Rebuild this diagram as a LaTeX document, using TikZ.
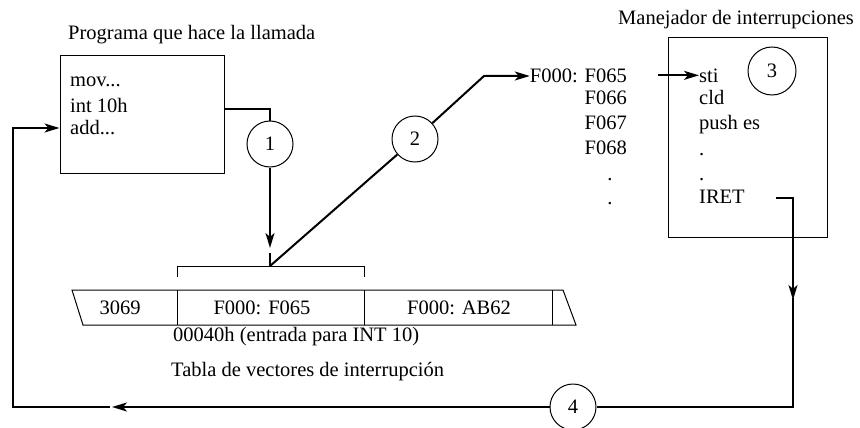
\documentclass[tikz,border=0pt]{standalone}
\usepackage{fontspec}
\setmainfont{Liberation Serif}
\usetikzlibrary{arrows.meta}
\begin{document}
\begin{tikzpicture}[x=1pt,y=-1pt,
  txt/.style={inner sep=0pt, font=\fontsize{20.5}{24}\selectfont},
  box/.style={draw, line width=1pt, inner sep=0pt},
  num/.style={draw, circle, line width=1pt, minimum size=46pt, inner sep=0pt, font=\fontsize{20.5}{24}\selectfont},
  flow/.style={line width=2pt},
  tip/.style={-{Stealth[length=15pt,width=9pt,inset=4pt]}},
  thinline/.style={line width=1pt}]
\useasboundingbox (0,0) rectangle (860,428);
% caller program
\node[txt, anchor=base west] (t1) at (68,40) {Programa que hace la llamada};
\node[box, minimum width=164pt, minimum height=117pt] (b1) at (142,114.5) {};
\node[txt, anchor=base west] (l1) at (70,87) {mov...};
\node[txt, anchor=base west] (l2) at (70,112) {int 10h};
\node[txt, anchor=base west] (l3) at (70,135) {add...};
% circles
\node[num] (c1) at (270,144) {1};
\node[num] (c2) at (415,139) {2};
\node[num, minimum size=48pt] (c3) at (772,71) {3};
\node[num] (c4) at (573,407) {4};
% handler
\node[txt, anchor=base west] (t3) at (618,25) {Manejador de interrupciones};
\node[box, minimum width=159pt, minimum height=199pt] (b3) at (747.5,137.5) {};
\node[txt, anchor=base west] (sti) at (699,82) {sti};
\node[txt, anchor=base west] (cld) at (699,104) {cld};
\node[txt, anchor=base west] (push) at (699,129) {push es};
\node[txt, anchor=base west] (hd1) at (699,155) {.};
\node[txt, anchor=base west] (hd2) at (699,180) {.};
\node[txt, anchor=base west] (iret) at (699,203) {IRET};
% address column
\node[txt, anchor=base east] (f0) at (627,82) {F000: F065};
\node[txt, anchor=base east] (f1) at (627,104) {F066};
\node[txt, anchor=base east] (f2) at (627,129) {F067};
\node[txt, anchor=base east] (f3) at (627,154) {F068};
\node[txt, anchor=base] (fd1) at (610,180) {.};
\node[txt, anchor=base] (fd2) at (610,204) {.};
% vector table
\draw[thinline] (72,290) -- (563,290) -- (576,325) -- (83,325) -- cycle;
\draw[thinline] (177,290) -- (177,325);
\draw[thinline] (364,290) -- (364,325);
\draw[thinline] (552,290) -- (552,325);
\node[txt, anchor=base] (v0) at (120,314) {3069};
\node[txt, anchor=base] (v1) at (262,314) {F000: F065};
\node[txt, anchor=base] (v2) at (459,314) {F000: AB62};
\node[txt, anchor=base west] (v3) at (173,341) {00040h (entrada para INT 10)};
\node[txt, anchor=base west] (v4) at (171,376) {Tabla de vectores de interrupción};
% bracket
\draw[thinline] (177,277) -- (177,266) -- (364,266) -- (364,277);
\coordinate (bc) at (270,266);
\coordinate (bt) at (270,253);
\draw[flow] (bt) -- (bc);
% step 1
\coordinate (a1) at (270,248);
\draw[flow] ([yshift=5.5pt]b1.east) -| (c1.north);
\draw[flow,tip] (c1.south) -- (a1);
% step 2
\coordinate (k2) at (484,76);
\draw[flow] (bc) -- (c2);
\draw[flow,tip] (c2) -- (k2) -- (k2 -| f0.west);
\draw[flow,tip] ([xshift=31pt]f0.east) -- (f0.east -| sti.west);
% return
\coordinate (r0) at (776,198);
\coordinate (r1) at (793,198);
\coordinate (r2) at (793,300);
\coordinate (r3) at (112,407);
\coordinate (r4) at (13,407);
\coordinate (r5) at (13,128);
\draw[flow,tip] (r0) -- (r1) -- (r2);
\draw[flow] ([yshift=2pt]r2) |- (c4.east);
\draw[flow,tip] (c4.west) -- (r3);
\draw[flow,tip] ([xshift=-2pt]r3) -- (r4) -- (r5) -- (r5 -| b1.west);
\end{tikzpicture}
\end{document}
